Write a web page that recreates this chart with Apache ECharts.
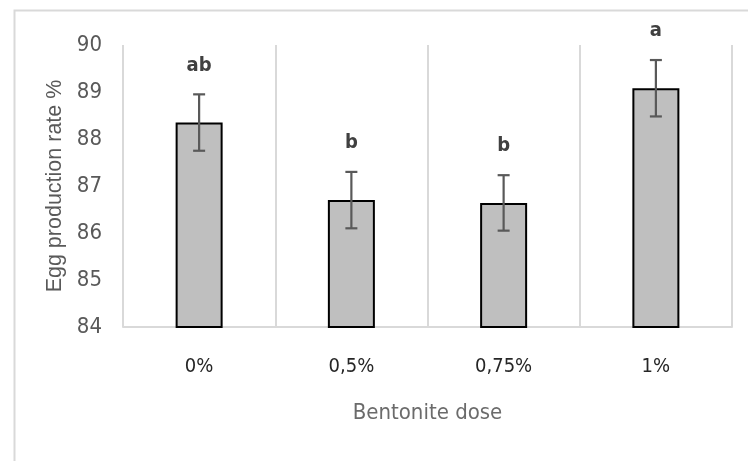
<!DOCTYPE html>
<html>
<head>
<meta charset="utf-8">
<script src="https://cdn.jsdelivr.net/npm/echarts@6/dist/echarts.min.js"></script>
<style>html,body{margin:0;padding:0;background:#fff}#c{width:748px;height:461px}</style>
</head>
<body>
<div id="c"></div>
<script>
var categories = ['0%', '0,5%', '0,75%', '1%'];
var means = [88.35, 86.70, 86.64, 89.08];
var errors = [0.6, 0.6, 0.59, 0.6];
var letters = ['ab', 'b', 'b', 'a'];
var yTicks = [84, 85, 86, 87, 88, 89, 90];

var narrow = '"DejaVu Sans Condensed", "Liberation Sans Narrow", sans-serif';

var errData = means.map(function (m, i) { return [i, m - errors[i], m + errors[i]]; });
var letterData = means.map(function (m, i) { return [i, m + errors[i], letters[i]]; });

var chart = echarts.init(document.getElementById('c'), null, { renderer: 'canvas' });
chart.setOption({
  animation: false,
  backgroundColor: '#ffffff',
  graphic: [{
    type: 'rect', left: 12, top: 8, silent: true,
    shape: { width: 760, height: 480 },
    style: { fill: 'none', stroke: '#d9d9d9', lineWidth: 2 }
  }],
  grid: { left: 123, right: 16, top: 45, bottom: 134 },
  xAxis: {
    type: 'category',
    data: categories,
    boundaryGap: true,
    axisLine: { show: true, lineStyle: { color: '#d9d9d9', width: 2 } },
    axisTick: { show: false },
    splitLine: { show: true, lineStyle: { color: '#d9d9d9', width: 2 } },
    axisLabel: { color: '#262626', fontFamily: narrow, fontSize: 20, margin: 30 },
    name: 'Bentonite dose',
    nameLocation: 'middle',
    nameGap: 75,
    nameTextStyle: { color: '#6b6b6b', fontFamily: narrow, fontSize: 22, verticalAlign: 'top' }
  },
  yAxis: {
    type: 'value',
    min: yTicks[0],
    max: yTicks[yTicks.length - 1],
    interval: 1,
    axisLine: { show: false },
    axisTick: { show: false },
    splitLine: { show: false },
    axisLabel: { color: '#595959', fontFamily: narrow, fontSize: 22, margin: 21 },
    name: 'Egg production rate %',
    nameLocation: 'middle',
    nameGap: 46,
    nameRotate: 90,
    nameTextStyle: { color: '#595959', fontFamily: '"Liberation Sans", sans-serif', fontSize: 21.5 }
  },
  series: [
    {
      type: 'bar',
      data: means,
      barWidth: 47,
      itemStyle: { color: '#bfbfbf', borderColor: '#000000', borderWidth: 2 },
      z: 2
    },
    {
      type: 'custom',
      data: errData,
      z: 5,
      renderItem: function (params, api) {
        var x = api.value(0);
        var lo = api.coord([x, api.value(1)]);
        var hi = api.coord([x, api.value(2)]);
        var hw = 6;
        var st = { stroke: '#595959', lineWidth: 2.2 };
        return {
          type: 'group',
          children: [
            { type: 'line', shape: { x1: lo[0], y1: lo[1], x2: hi[0], y2: hi[1] }, style: st },
            { type: 'line', shape: { x1: lo[0] - hw, y1: lo[1], x2: lo[0] + hw, y2: lo[1] }, style: st },
            { type: 'line', shape: { x1: hi[0] - hw, y1: hi[1], x2: hi[0] + hw, y2: hi[1] }, style: st }
          ]
        };
      }
    },
    {
      type: 'custom',
      data: letterData,
      z: 6,
      renderItem: function (params, api) {
        var p = api.coord([api.value(0), api.value(1)]);
        return {
          type: 'text',
          x: p[0], y: p[1] - 29,
          style: {
            text: letters[params.dataIndex],
            fill: '#404040',
            font: 'bold 20px ' + narrow,
            align: 'center',
            verticalAlign: 'middle'
          }
        };
      }
    }
  ]
});
</script>
</body>
</html>
